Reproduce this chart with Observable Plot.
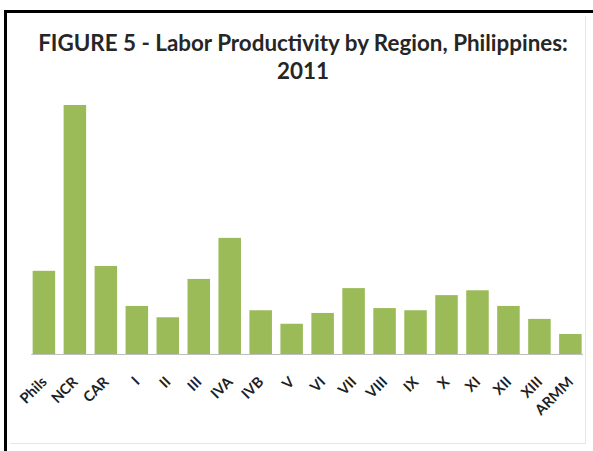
<!DOCTYPE html>
<html>
<head>
<meta charset="utf-8">
<script src="https://cdn.jsdelivr.net/npm/d3@7"></script>
<script src="https://cdn.jsdelivr.net/npm/@observablehq/plot@0.6"></script>
<style>
  html, body { margin: 0; padding: 0; background: #fff; }
  body { width: 593px; height: 451px; position: relative; overflow: hidden; font-family: Lato, "Open Sans", sans-serif; }
  #frame { position: absolute; left: 4px; top: 10px; width: 589px; height: 441px; box-sizing: border-box;
           border-top: 3px solid #000; border-left: 3px solid #000; }
  #inner { position: absolute; left: 10px; top: 16px; width: 576px; height: 428px; box-sizing: border-box;
           border-right: 1px solid #e6e6e6; border-bottom: 1px solid #e6e6e6; }
  #title { position: absolute; left: 0; top: 29px; width: 606px; text-align: center; font-weight: bold;
           font-size: 22.4px; line-height: 28px; color: #262626; white-space: nowrap; }
  #chart { position: absolute; left: 0; top: 0; width: 593px; height: 451px; }
  #chart svg text { font-weight: bold; font-size: 14.5px; }
</style>
</head>
<body>
<div id="frame"></div>
<div id="inner"></div>
<div id="title">FIGURE 5 - Labor Productivity by Region, Philippines:<br>2011</div>
<div id="chart"></div>
<script>
const regions = ["Phils", "NCR", "CAR", "I", "II", "III", "IVA", "IVB", "V", "VI", "VII", "VIII", "IX", "X", "XI", "XII", "XIII", "ARMM"];
const productivity = [154, 461, 163, 89, 68, 139, 215, 81, 56, 76, 122, 85, 81, 109, 118, 89, 65, 37];

const data = regions.map((r, i) => ({region: r, value: productivity[i]}));

const chart = Plot.plot({
  width: 593,
  height: 451,
  marginLeft: 24.2,
  marginRight: 2.9,
  marginTop: 105,
  marginBottom: 97,
  style: {background: "transparent", fontFamily: "Lato, 'Open Sans', sans-serif", maxWidth: "none"},
  x: {domain: regions, padding: 0.273, round: false, label: null},
  y: {domain: [0, 461], axis: null},
  marks: [
    Plot.barY(data, {x: "region", y: "value", fill: "#9bbb59"}),
    Plot.ruleY([0], {stroke: "#bfbfbf", strokeWidth: 1.2, insetLeft: 7, insetRight: 7}),
    Plot.axisX({tickRotate: -45, tickSize: 0, tickPadding: 25, fontSize: 14.5, fill: "#1f1f1f", label: null})
  ]
});
document.getElementById("chart").appendChild(chart);
</script>
</body>
</html>
